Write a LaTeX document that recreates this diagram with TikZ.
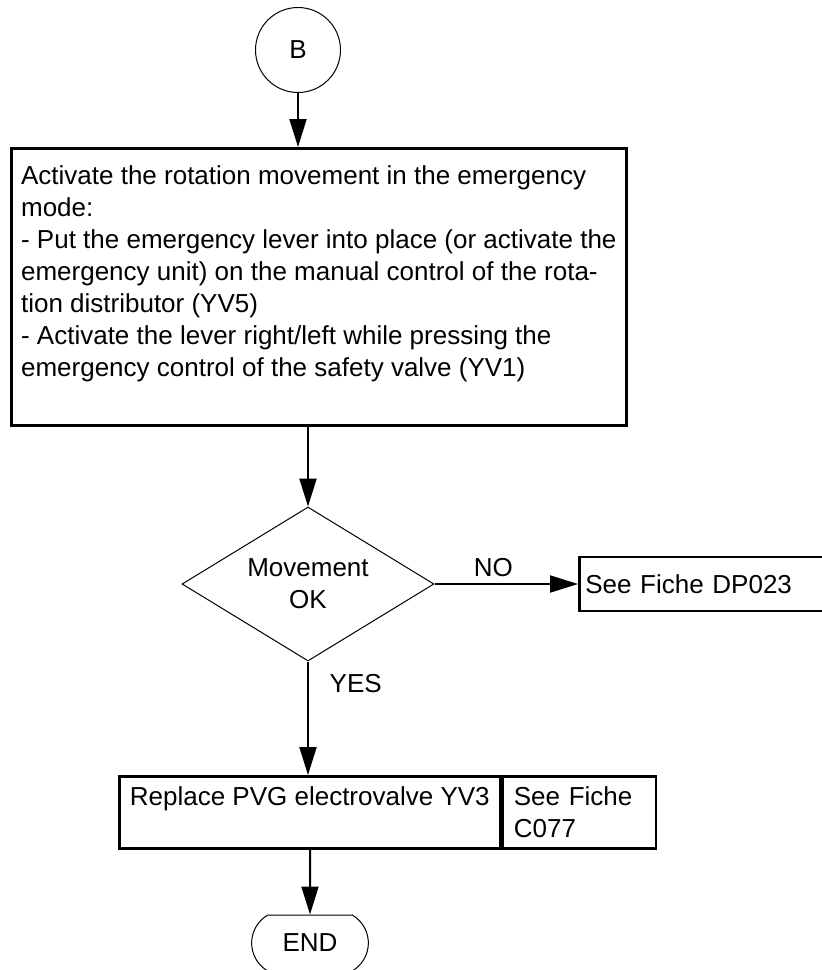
\documentclass[tikz,border=0pt]{standalone}
\usepackage{fontspec}
\setmainfont{Liberation Sans}
\usetikzlibrary{positioning,arrows.meta,shapes.geometric,shapes.misc}

\begin{document}
\begin{tikzpicture}[x=0.5pt,y=-0.5pt,
  font=\fontsize{13}{16}\selectfont,
  flow/.style={line width=1pt,-{Triangle[length=14pt,width=8.5pt]}},
  conn/.style={draw,circle,line width=0.5pt,minimum size=42.5pt,inner sep=0pt},
  actbox/.style={draw,line width=1.3pt,align=left,inner sep=0pt},
  decision/.style={draw,diamond,line width=0.5pt,aspect=1.64,inner sep=0pt,
    minimum width=126pt,minimum height=77pt,align=center},
  stopbox/.style={draw,rounded rectangle,rounded rectangle arc length=120,
    line width=0.5pt,minimum width=65pt,minimum height=28pt}]
\useasboundingbox (0,0) rectangle (821,970);
\node[conn] (b) at (298,50) {B};
\node[actbox,anchor=north west,minimum width=307.5pt,minimum height=138.5pt] (act) at (10,147)
  {Activate the rotation movement in the emergency\\
   mode:\\
   - Put the emergency lever into place (or activate the\\
   emergency unit) on the manual control of the rota-\\
   tion distributor (YV5)\\
   - Activate the lever right/left while pressing the\\
   emergency control of the safety valve (YV1)\\
   \mbox{}};
\node[decision] (mv) at (308,584) {Movement\\OK};
\node[actbox,anchor=west,text width=116.5pt,inner xsep=3pt,minimum height=27pt] (df) at (578,584) {See Fiche DP023};
\node[actbox,anchor=north west,minimum width=190.5pt,minimum height=36pt] (rep) at (118,775)
  {Replace PVG electrovalve YV3\\\mbox{}};
\node[actbox,right=0pt of rep,text width=65.5pt,inner xsep=5.5pt,minimum height=36pt] (c77) {See Fiche\\C077};
\node[stopbox] (fin) at (310,943) {END};
\draw[flow] (b) -- (b |- act.north);
\draw[flow] (mv |- act.south) -- (mv);
\draw[flow] (mv) -- node[above,pos=0.41] {NO} (df);
\draw[flow] (mv) -- node[right=7pt,pos=0.19] {YES} (mv |- rep.north);
\draw[flow] (fin |- rep.south) -- (fin);
\end{tikzpicture}
\end{document}
